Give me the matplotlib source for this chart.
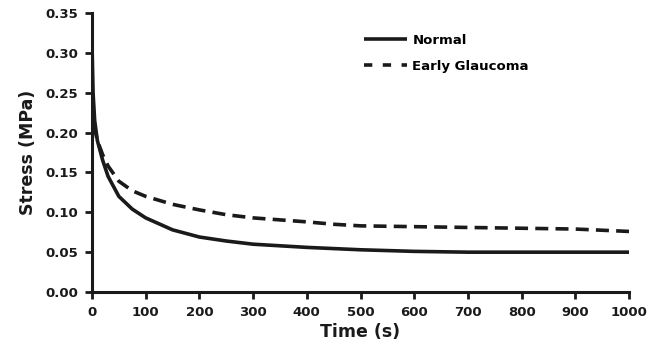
import matplotlib
matplotlib.use("Agg")
import matplotlib.pyplot as plt

time_normal = [0, 2, 5, 10, 20, 30, 50, 75, 100, 150, 200, 250, 300, 400, 500, 600, 700, 800, 900, 1000]
stress_normal = [0.312, 0.25, 0.215, 0.19, 0.165, 0.145, 0.120, 0.104, 0.093, 0.078, 0.069, 0.064, 0.060, 0.056, 0.053, 0.051, 0.050, 0.050, 0.050, 0.050]

time_glaucoma = [0, 2, 5, 10, 20, 30, 50, 75, 100, 150, 200, 250, 300, 400, 450, 500, 600, 700, 800, 900, 1000]
stress_glaucoma = [0.26, 0.225, 0.205, 0.19, 0.172, 0.158, 0.139, 0.127, 0.120, 0.110, 0.103, 0.097, 0.093, 0.088, 0.085, 0.083, 0.082, 0.081, 0.080, 0.079, 0.076]

xticks = list(range(0, 1001, 100))
yticks = [0.00, 0.05, 0.10, 0.15, 0.20, 0.25, 0.30, 0.35]

plt.rcParams['font.family'] = ['DejaVu Sans']
plt.rcParams['font.weight'] = 'bold'

fig = plt.figure(figsize=(6.68, 3.51), dpi=100)
ax = fig.add_axes([0.1377, 0.168, 0.804, 0.795])

ax.plot(time_normal, stress_normal, color='#1a1a1a', lw=2.6, label='Normal', solid_capstyle='butt')
ax.plot(time_glaucoma, stress_glaucoma, color='#1a1a1a', lw=2.6, ls=(0, (3.6, 2.0)), label='Early Glaucoma', dash_capstyle='butt')

ax.set_xlim(0, 1000)
ax.set_ylim(0, 0.35)
ax.set_xticks(xticks)
ax.set_yticks(yticks)
ax.set_yticklabels([f"{v:.2f}" for v in yticks])
ax.tick_params(axis='both', which='major', direction='out', length=5, width=2, labelsize=9.5, colors='#1a1a1a', pad=5)
for lab in ax.get_xticklabels() + ax.get_yticklabels():
    lab.set_fontweight('bold')
for s in ['top', 'right']:
    ax.spines[s].set_visible(False)
for s in ['left', 'bottom']:
    ax.spines[s].set_linewidth(2.2)
    ax.spines[s].set_color('#1a1a1a')

ax.set_xlabel('Time (s)', fontsize=12.5, fontweight='bold', color='#1a1a1a', labelpad=3)
ax.set_ylabel('Stress (MPa)', fontsize=12.5, fontweight='bold', color='#1a1a1a', labelpad=6)

leg = ax.legend(loc='upper left', bbox_to_anchor=(0.485, 0.968), frameon=False, handlelength=3.2,
                handletextpad=0.45, labelspacing=1.0, prop={'weight': 'bold', 'size': 9.5})
leg.get_lines()[1].set_dashes([2.3, 2.9])

fig.savefig('out.png', dpi=100, facecolor='white')
